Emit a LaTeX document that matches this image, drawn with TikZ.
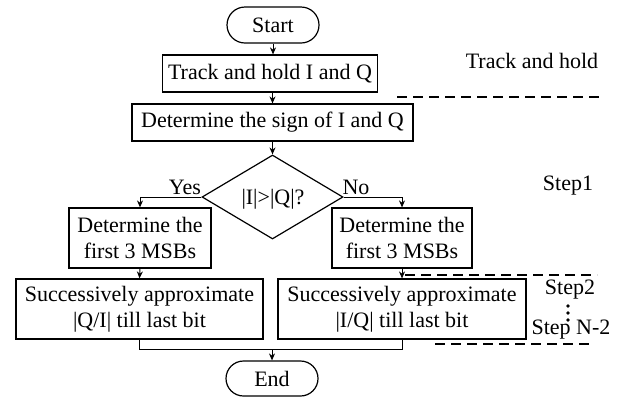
\documentclass[tikz,border=0pt]{standalone}
\usepackage{fontspec}
\setmainfont{Liberation Serif}
\usetikzlibrary{shapes.misc,shapes.geometric,arrows.meta}
\newcommand{\fs}{\fontsize{11}{13}\selectfont}
\begin{document}
\begin{tikzpicture}[x=0.5pt,y=-0.5pt,
  box/.style={draw, line width=0.6pt, inner sep=0pt, align=center, font=\fs},
  term/.style={rounded rectangle, draw, line width=0.6pt, inner sep=0pt, font=\fs, minimum width=46pt, minimum height=18pt},
  arr/.style={-{Stealth[length=3.5pt,width=3pt]}, line width=0.5pt},
  ln/.style={line width=0.5pt},
  dsh/.style={line width=0.6pt, dash pattern=on 5pt off 3pt},
  lbl/.style={font=\fs, inner sep=0pt},
  dotn/.style={fill, circle, inner sep=0pt, minimum size=1.9pt}]
\useasboundingbox (0,0) rectangle (620,397);

\node[term] (start) at (273,25) {Start};
\node[box, minimum width=107.5pt, minimum height=18.5pt] (track) at (270,73.5) {Track and hold I and Q};
\node[box, minimum width=140.5pt, minimum height=18.5pt] (sign) at (272.5,122.5) {Determine the sign of I and Q};
\node[diamond, draw, line width=0.6pt, inner sep=0pt, minimum width=70.5pt, minimum height=42pt, font=\fs] (dec) at (272.5,197) {};
\node[lbl] (dectxt) at (273,199) {|I|>|Q|?};
\node[box, minimum width=71pt, minimum height=30pt] (l1) at (140,238) {Determine the\\first 3 MSBs};
\node[box, minimum width=70pt, minimum height=30pt] (r1) at (402,238) {Determine the\\first 3 MSBs};
\node[box, minimum width=123.5pt, minimum height=30pt] (l2) at (139.5,309) {Successively approximate\\|Q/I| till last bit};
\node[box, minimum width=124pt, minimum height=30pt] (r2) at (402,309) {Successively approximate\\|I/Q| till last bit};
\node[term, minimum height=17.5pt] (end) at (272,378.5) {End};

\node[lbl] (yes) at (185,187) {Yes};
\node[lbl] (no) at (356,187) {No};
\node[lbl] (th) at (532,61) {Track and hold};
\node[lbl] (s1) at (568,186) {Step1};
\node[lbl] (s2) at (570,290) {Step2};
\node[lbl] (sn) at (571,330) {Step N-2};
\node[dotn] (d1) at (568,306) {};
\node[dotn] (d2) at (568,313) {};
\node[dotn] (d3) at (568,320) {};

\coordinate (join) at (272,349);
\coordinate (da1) at (397,97);
\coordinate (da2) at (602,97);
\coordinate (db1) at (405,275);
\coordinate (db2) at (597,275);
\coordinate (dc1) at (435,344);
\coordinate (dc2) at (590,344);

\draw[arr] (start.south) -- (start.south |- track.north);
\draw[arr] (track.south -| sign.north) -- (sign.north);
\draw[arr] (sign.south) -- (dec.north);
\draw[arr] (dec.west) -| (l1.north);
\draw[arr] (dec.east) -| (r1.north);
\draw[arr] (l1.south) -- (l2.north);
\draw[arr] (r1.south) -- (r2.north);
\draw[ln] (l2.south) |- (join) -| (r2.south);
\draw[arr] (join) -- (end.north);

\draw[dsh] (da1) -- (da2);
\draw[dsh] (db1) -- (db2);
\draw[dsh] (dc1) -- (dc2);
\end{tikzpicture}
\end{document}
